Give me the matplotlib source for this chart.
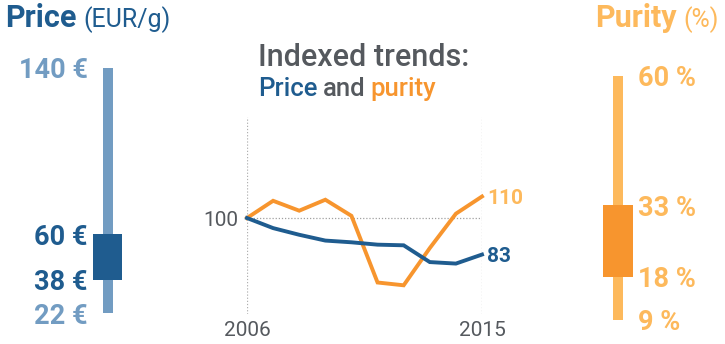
import matplotlib
matplotlib.use("Agg")
import matplotlib.pyplot as plt

plt.rcParams['font.family'] = ['Roboto', 'DejaVu Sans']

# Data
years = [2006, 2007, 2008, 2009, 2010, 2011, 2012, 2013, 2014, 2015]
price_index = [100, 95.3, 92.2, 89.5, 88.7, 87.6, 87.3, 79.5, 78.8, 83]
purity_index = [100, 108, 103.4, 108.5, 101, 70, 68.7, 86, 102, 110]

price_range = [22, 140]      # min, max (EUR/g)
price_iqr = [38, 60]
purity_range = [9, 60]       # min, max (%)
purity_iqr = [18, 33]

DARK_BLUE = '#1f5c8f'
LIGHT_BLUE = '#729cc2'
ORANGE = '#f7952e'
LIGHT_ORANGE = '#fdb95c'
GRAY = '#55595e'

W, H = 725, 344
fig = plt.figure(figsize=(W / 100, H / 100), dpi=100)
renderer = fig.canvas.get_renderer()


def add_axes_px(x0, x1, ytop, ybot):
    return fig.add_axes([x0 / W, 1 - ybot / H, (x1 - x0) / W, (ybot - ytop) / H])


def text_row(x, ybase, pieces):
    """pieces: list of (string, color, size, weight, gap_after_px)"""
    for s, c, size, weight, gap in pieces:
        t = fig.text(x / W, 1 - ybase / H, s, color=c, fontsize=size, fontweight=weight,
                     ha='left', va='baseline')
        bb = t.get_window_extent(renderer)
        x = bb.x1 + gap


# ---------- Price range bar ----------
axp = add_axes_px(93, 122, 68, 313)
axp.set_xlim(-0.5, 0.5)
axp.set_ylim(price_range[0], price_range[1])
axp.bar(0, price_range[1] - price_range[0], bottom=price_range[0], width=10 / 29,
        color=LIGHT_BLUE)
axp.bar(0, price_iqr[1] - price_iqr[0], bottom=price_iqr[0], width=1.0, color=DARK_BLUE)
axp.axis('off')
for v, c in [(price_range[1], LIGHT_BLUE), (price_iqr[1], DARK_BLUE),
             (price_iqr[0], DARK_BLUE), (price_range[0], LIGHT_BLUE)]:
    axp.text(-0.5 - 5 / 29, v, f"{v} €", ha='right', va='center_baseline', color=c,
             fontsize=19.5, fontweight='bold')

# ---------- Purity range bar ----------
axu = add_axes_px(603, 633, 76, 320)
axu.set_xlim(-0.5, 0.5)
axu.set_ylim(purity_range[0], purity_range[1])
axu.bar(0, purity_range[1] - purity_range[0], bottom=purity_range[0], width=10 / 30,
        color=LIGHT_ORANGE)
axu.bar(0, purity_iqr[1] - purity_iqr[0], bottom=purity_iqr[0], width=1.0, color=ORANGE)
axu.axis('off')
for v in [purity_range[1], purity_iqr[1], purity_iqr[0], purity_range[0]]:
    axu.text(0.5 + 5 / 30, v, f"{v} %", ha='left', va='center_baseline', color=LIGHT_ORANGE,
             fontsize=19.5, fontweight='bold')

# ---------- Indexed trends line chart ----------
ymin, ymax = 55.5, 147
ppu = 2.15
axl = add_axes_px(247, 482, 218 - (ymax - 100) * ppu, 218 + (100 - ymin) * ppu)
axl.set_xlim(years[0], years[-1])
axl.set_ylim(ymin, ymax)
for s in axl.spines.values():
    s.set_visible(False)
axl.set_xticks([])
axl.set_yticks([])
axl.patch.set_alpha(0)
for yr in [years[0], years[-1]]:
    axl.axvline(yr, color='#b0b0b0', lw=0.9, ls=(0, (1, 1.5)), zorder=1)
axl.plot([years[0], years[-1]], [100, 100], color='#a0a0a0', lw=0.9, ls=(0, (1, 1.5)), zorder=1)
axl.plot(years, purity_index, color=ORANGE, lw=2.8, solid_joinstyle='miter', clip_on=False, zorder=3)
axl.plot(years, price_index, color=DARK_BLUE, lw=2.8, solid_joinstyle='miter', clip_on=False, zorder=4)
axl.text(years[-1] + 0.2, purity_index[-1], f"{purity_index[-1]:.0f}", color=LIGHT_ORANGE,
         fontsize=15, fontweight='bold', ha='left', va='center_baseline')
axl.text(years[-1] + 0.2, price_index[-1], f"{price_index[-1]:.0f}", color=DARK_BLUE,
         fontsize=15, fontweight='bold', ha='left', va='center_baseline')
axl.text(years[0] - 0.33, 100, "100", color=GRAY, fontsize=15, fontweight='normal',
         ha='right', va='center_baseline')
for yr in [years[0], years[-1]]:
    axl.text(yr, ymin - 7.1, str(yr), color=GRAY, fontsize=15, fontweight='normal',
             ha='center', va='center_baseline')

# ---------- Titles ----------
text_row(5, 27, [("Price", DARK_BLUE, 22, 'bold', 7),
                 ("(EUR/g)", DARK_BLUE, 18, 'normal', 0)])
text_row(595, 27, [("Purity", LIGHT_ORANGE, 22, 'bold', 7),
                   ("(%)", LIGHT_ORANGE, 18, 'normal', 0)])
text_row(258, 66, [("Indexed trends:", GRAY, 22, 'medium', 0)])
text_row(258, 96, [("Price", DARK_BLUE, 18.5, 'medium', 5),
                   ("and", GRAY, 18.5, 'medium', 5),
                   ("purity", ORANGE, 18.5, 'medium', 0)])

fig.savefig("out.png", dpi=100)
